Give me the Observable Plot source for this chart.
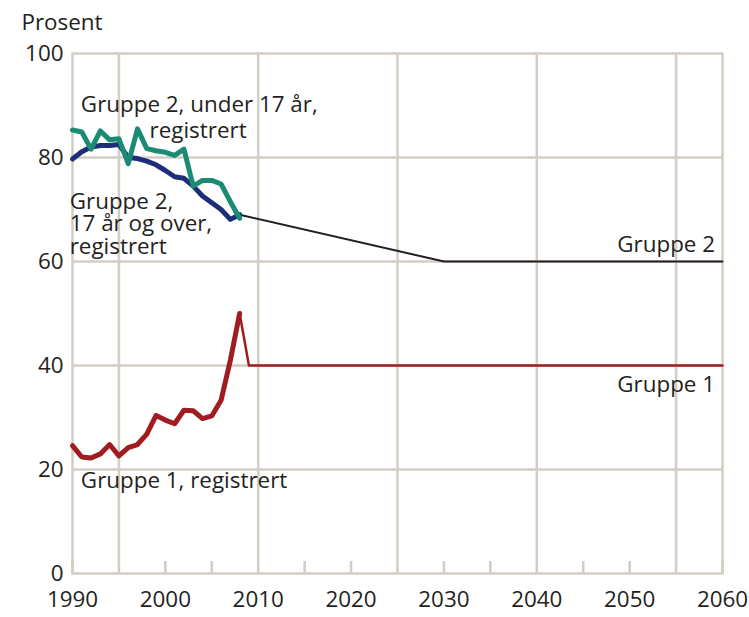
<!DOCTYPE html>
<html><head><meta charset="utf-8">
<script src="https://cdn.jsdelivr.net/npm/d3@7"></script>
<script src="https://cdn.jsdelivr.net/npm/@observablehq/plot@0.6"></script>
<style>body{margin:0;background:#fff;} svg{display:block;}</style>
</head><body><div id="chart"></div>
<script>
// Data
const years = [1990,1991,1992,1993,1994,1995,1996,1997,1998,1999,2000,2001,2002,2003,2004,2005,2006,2007,2008];
const gruppe1Registrert = [24.6,22.4,22.2,23.0,24.8,22.6,24.2,24.8,26.8,30.4,29.5,28.8,31.4,31.3,29.8,30.3,33.3,41.0,50.0];
const gruppe2Under17 = [85.3,84.9,81.6,85.1,83.4,83.6,78.8,85.5,81.7,81.3,81.0,80.4,81.6,74.5,75.6,75.6,74.9,71.5,68.3];
const gruppe2Over17 = [79.7,81.1,82.0,82.3,82.3,82.5,80.0,79.8,79.3,78.6,77.5,76.3,76.0,74.5,72.6,71.3,70.0,68.1,69.0];
const gruppe1ProjYears = [2008, 2009, 2060];
const gruppe1ProjValues = [50.0, 40.0, 40.0];
const gruppe2ProjYears = [2008, 2030, 2060];
const gruppe2ProjValues = [69.0, 60.0, 60.0];

const xTickLabels = [1990,2000,2010,2020,2030,2040,2050,2060];
const yTickLabels = [0,20,40,60,80,100];
const xGridYears = [1995,2010,2025,2040,2055];
const yGridValues = [20,40,60,80];
const xMinorTicks = [1990,2000,2005,2015,2020,2030,2035,2045,2050,2060];

const leftLabelTexts = ["Gruppe 2, under 17 år,", "registrert", "Gruppe 2,\n17 år og over,\nregistrert", "Gruppe 1, registrert"];
const leftLabelYears = [1990.9, 1998.3, 1989.7, 1990.9];
const leftLabelValues = [90.2, 85.1, 67.2, 17.9];
const rightLabelTexts = ["Gruppe 2", "Gruppe 1"];
const rightLabelYears = [2059.2, 2059.2];
const rightLabelValues = [63.3, 36.2];

const toRows = (xs, ys) => xs.map((x, i) => ({x, y: ys[i]}));
const leftLabels = leftLabelTexts.map((t, i) => ({text: t, x: leftLabelYears[i], y: leftLabelValues[i]}));
const rightLabels = rightLabelTexts.map((t, i) => ({text: t, x: rightLabelYears[i], y: rightLabelValues[i]}));

const grid = "#d3cdc3";
const ink = "#231f20";

const chart = Plot.plot({
  width: 749, height: 617,
  marginLeft: 72, marginRight: 27, marginTop: 53, marginBottom: 44,
  style: {fontFamily: "'Open Sans', sans-serif", fontSize: "22.4px", color: ink, background: "#fff"},
  x: {domain: [1990, 2060], ticks: xTickLabels, tickFormat: d => String(d), tickSize: 0, tickPadding: 18, label: null},
  y: {domain: [0, 100], ticks: yTickLabels, tickSize: 0, tickPadding: 9, label: null},
  marks: [
    Plot.ruleY(yGridValues, {stroke: grid, strokeWidth: 2.5}),
    Plot.ruleX(xGridYears, {stroke: grid, strokeWidth: 2.5}),
    Plot.ruleX(xMinorTicks, {stroke: grid, strokeWidth: 2.5, insetTop: 508}),
    Plot.frame({stroke: grid, strokeWidth: 2.5}),
    Plot.line(toRows(gruppe2ProjYears, gruppe2ProjValues), {x: "x", y: "y", stroke: ink, strokeWidth: 2}),
    Plot.line(toRows(gruppe1ProjYears, gruppe1ProjValues), {x: "x", y: "y", stroke: "#a01c20", strokeWidth: 2.5}),
    Plot.line(toRows(years, gruppe1Registrert), {x: "x", y: "y", stroke: "#a01c20", strokeWidth: 5, strokeLinejoin: "round"}),
    Plot.line(toRows(years, gruppe2Over17), {x: "x", y: "y", stroke: "#1c2e78", strokeWidth: 5, strokeLinejoin: "round"}),
    Plot.line(toRows(years, gruppe2Under17), {x: "x", y: "y", stroke: "#1b8b76", strokeWidth: 5, strokeLinejoin: "round"}),
    Plot.text(leftLabels, {x: "x", y: "y", text: "text", textAnchor: "start", fill: ink, lineHeight: 1.0}),
    Plot.text(rightLabels, {x: "x", y: "y", text: "text", textAnchor: "end", fill: ink}),
    Plot.text(["Prosent"], {frameAnchor: "top-left", textAnchor: "start", dx: -51, dy: -39, fill: ink})
  ]
});
document.getElementById("chart").append(chart);
</script>
</body></html>
